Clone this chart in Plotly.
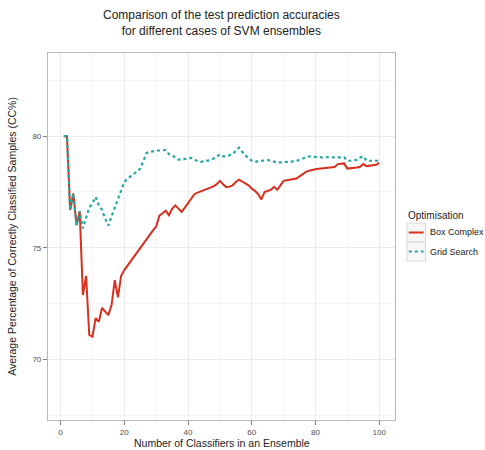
import plotly.graph_objects as go

n_classifiers = list(range(1, 101))

box_complex = [
    80.0, 80.0, 76.69, 77.43, 76.01, 76.64, 72.88, 73.74, 71.09, 71.01,
    71.84, 71.68, 72.30, 72.15, 71.98, 72.43, 73.55, 72.78, 73.74, 74.00,
    74.20, 74.40, 74.60, 74.80, 75.00, 75.20, 75.42, 75.60, 75.78, 75.95,
    76.44, 76.55, 76.66, 76.46, 76.75, 76.90, 76.75, 76.61, 76.80, 77.00,
    77.20, 77.40, 77.47, 77.53, 77.60, 77.65, 77.70, 77.75, 77.85, 78.00,
    77.85, 77.72, 77.74, 77.80, 77.95, 78.05, 77.97, 77.90, 77.80, 77.65,
    77.55, 77.40, 77.17, 77.50, 77.55, 77.60, 77.73, 77.60, 77.80, 78.00,
    78.03, 78.05, 78.08, 78.10, 78.20, 78.30, 78.40, 78.45, 78.50, 78.52,
    78.54, 78.55, 78.57, 78.58, 78.60, 78.62, 78.75, 78.78, 78.78, 78.55,
    78.56, 78.58, 78.60, 78.63, 78.75, 78.66, 78.68, 78.70, 78.72, 78.80,
]

grid_search = [
    80.0, 80.0, 76.69, 77.43, 76.01, 76.64, 75.87, 76.30, 76.80, 77.00,
    77.28, 76.90, 76.70, 76.30, 76.00, 76.40, 76.80, 77.20, 77.60, 77.95,
    78.10, 78.20, 78.30, 78.42, 78.55, 78.90, 79.25, 79.30, 79.34, 79.35,
    79.36, 79.37, 79.38, 79.20, 79.15, 79.05, 78.95, 78.95, 78.97, 79.00,
    79.03, 78.95, 78.88, 78.85, 78.88, 78.92, 78.93, 79.00, 79.10, 79.18,
    79.10, 79.10, 79.15, 79.20, 79.35, 79.49, 79.30, 79.15, 79.00, 78.90,
    78.85, 78.88, 78.90, 78.92, 78.93, 78.90, 78.85, 78.82, 78.83, 78.84,
    78.85, 78.86, 78.87, 78.88, 78.95, 79.00, 79.08, 79.10, 79.08, 79.06,
    79.04, 79.05, 79.06, 79.06, 79.07, 79.07, 79.07, 79.07, 79.05, 78.90,
    78.90, 78.90, 78.95, 79.05, 79.10, 78.90, 78.90, 78.90, 78.90, 78.90,
]

series_names = ["Box Complex", "Grid Search"]
x_ticks = [0, 20, 40, 60, 80, 100]
y_ticks = [70, 75, 80]

FONT = "Liberation Sans, Arial, sans-serif"
W, H = 485, 450
L, R, T, B = 43, 90, 53, 30
PW, PH = W - L - R, H - T - B
colors = ["#d7301f", "#1fa9a0"]
dashes = ["solid", "3px,3px"]


def px_x(px):
    return (px - L) / PW


def px_y(py):
    return (H - B - py) / PH


fig = go.Figure()
for name, vals, c, d in zip(series_names, [box_complex, grid_search], colors, dashes):
    fig.add_trace(go.Scatter(
        x=n_classifiers, y=vals, mode="lines", name=name,
        line=dict(color=c, width=2.2 if d != "solid" else 2, dash=d),
        showlegend=False,
    ))

fig.update_layout(
    width=W, height=H,
    margin=dict(l=L, r=R, t=T, b=B),
    paper_bgcolor="white", plot_bgcolor="white",
    font=dict(family=FONT, color="#222222"),
    showlegend=False,
)

fig.update_xaxes(
    range=[-3.95, 104.95], tickmode="array", tickvals=x_ticks,
    ticks="outside", ticklen=4, tickcolor="#7f7f7f", tickwidth=1,
    tickfont=dict(size=8, color="#4d4d4d", family=FONT),
    showgrid=True, gridcolor="#ebebeb", gridwidth=1,
    minor=dict(tickmode="array", tickvals=[10, 30, 50, 70, 90], showgrid=True,
               gridcolor="#f6f6f6", gridwidth=1),
    showline=True, linecolor="#b8b8b8", linewidth=1.2, mirror=True,
    zeroline=False,
)
fig.update_yaxes(
    range=[67.28, 83.73], tickmode="array", tickvals=y_ticks,
    ticks="outside", ticklen=4, tickcolor="#7f7f7f", tickwidth=1,
    tickfont=dict(size=8, color="#4d4d4d", family=FONT),
    showgrid=True, gridcolor="#ebebeb", gridwidth=1,
    minor=dict(tickmode="array", tickvals=[67.5, 72.5, 77.5, 82.5], showgrid=True,
               gridcolor="#f6f6f6", gridwidth=1),
    showline=True, linecolor="#b8b8b8", linewidth=1.2, mirror=True,
    zeroline=False,
    title=dict(text="Average Percentage of Correctly Classified Samples (CC%)",
               font=dict(size=10.5, family=FONT, color="#222222"), standoff=13),
)

# Title
fig.add_annotation(
    text="Comparison of the test prediction accuracies<br>for different cases of SVM ensembles",
    xref="paper", yref="paper", x=0.5, y=px_y(23), xanchor="center", yanchor="middle",
    showarrow=False, font=dict(size=12, family=FONT, color="#222222"),
)

# X axis title
fig.add_annotation(
    text="Number of Classifiers in an Ensemble", xref="paper", yref="paper",
    x=0.5, y=px_y(435), xanchor="center", yanchor="top", showarrow=False,
    font=dict(size=10.5, family=FONT, color="#222222"),
)

# Legend (ggplot style)
fig.add_annotation(
    text="Optimisation", xref="paper", yref="paper", x=px_x(406), y=px_y(215),
    xanchor="left", yanchor="middle", showarrow=False,
    font=dict(size=10, family=FONT, color="#222222"),
)
row_tops = [223, 242]
for name, c, d, top in zip(series_names, colors, dashes, row_tops):
    fig.add_shape(type="rect", xref="paper", yref="paper",
                  x0=px_x(407), x1=px_x(426), y0=px_y(top), y1=px_y(top + 19),
                  line=dict(color="#d9d9d9", width=1), fillcolor="#f7f7f7")
    cy = top + 9.5
    fig.add_shape(type="line", xref="paper", yref="paper",
                  x0=px_x(409), x1=px_x(424), y0=px_y(cy), y1=px_y(cy),
                  line=dict(color=c, width=2.2 if d != "solid" else 2, dash=d))
    fig.add_annotation(
        text=name, xref="paper", yref="paper", x=px_x(428), y=px_y(cy),
        xanchor="left", yanchor="middle", showarrow=False,
        font=dict(size=9, family=FONT, color="#222222"),
    )

fig.write_html("out.html")
